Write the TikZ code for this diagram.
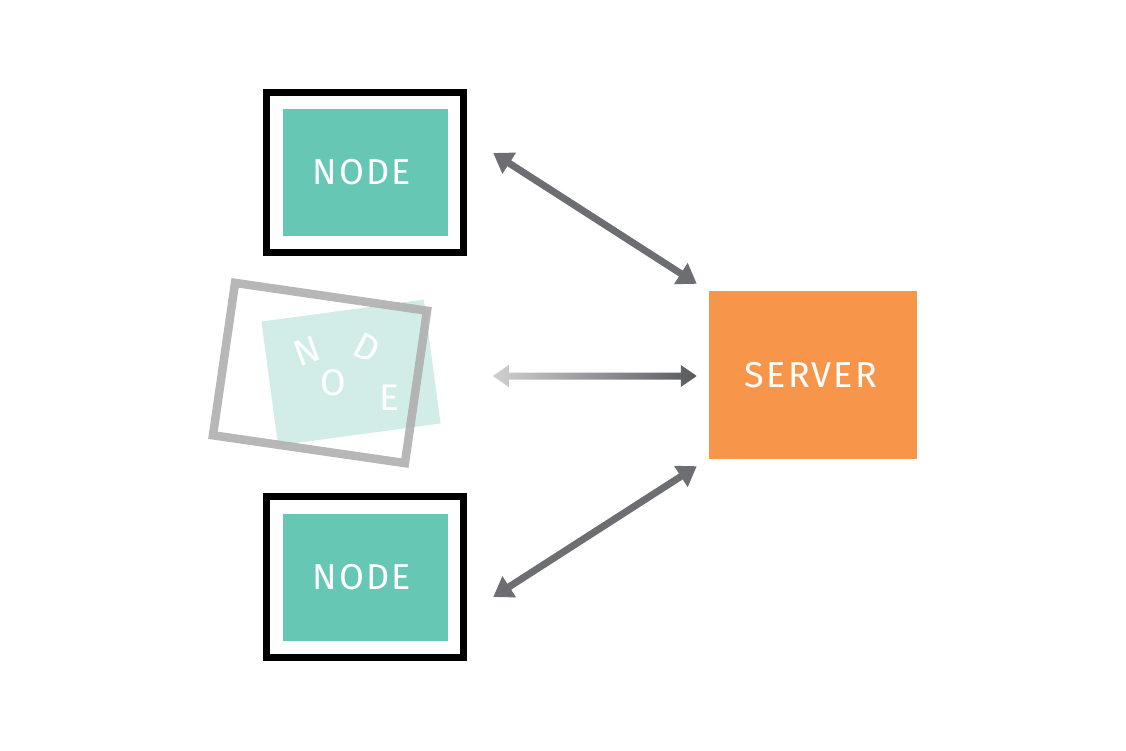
\documentclass[tikz,border=0pt]{standalone}
\usepackage{fontspec}
\newfontfamily\labelfont[LetterSpace=6]{Fira Sans}
\usepackage{tikz}
\usetikzlibrary{
  arrows.meta,
  positioning,
  calc
}
\definecolor{nodeteal}{HTML}{65C7B4}
\definecolor{paleteal}{HTML}{D2EDE7}
\definecolor{servorange}{HTML}{F7964A}
\definecolor{linkgray}{HTML}{6D6E71}
\definecolor{framegray}{HTML}{AFAFAF}
\definecolor{fadelight}{HTML}{D0D0D1}
\definecolor{fadedark}{HTML}{58595B}
\tikzset{
  conn/.style      = {{Triangle[length=19pt, width=24pt]}-{Triangle[length=19pt, width=24pt]},
                      line width=7pt, linkgray},
  frame/.style     = {draw=black, line width=7.5pt, minimum width=197pt,
                      minimum height=160pt, inner sep=0pt},
  nodebox/.style   = {fill=nodeteal, minimum width=165pt, minimum height=127pt,
                      inner sep=0pt, text=white, font=\labelfont\fontsize{36}{40}\selectfont},
  lostframe/.style = {draw=framegray, line width=8.5pt, minimum width=194pt,
                      minimum height=154pt, inner sep=0pt, draw opacity=0.9},
  lostbox/.style   = {fill=paleteal, minimum width=164pt, minimum height=125pt,
                      inner sep=0pt},
  letter/.style    = {text=white, inner sep=0pt, font=\labelfont\fontsize{37}{40}\selectfont},
  serverbox/.style = {fill=servorange, minimum width=208pt, minimum height=168pt,
                      inner sep=0pt, text=white, font=\labelfont\fontsize{36}{40}\selectfont},
}

\begin{document}
\begin{tikzpicture}[x=1pt, y=-1pt]
\useasboundingbox (0,0) rectangle (1126,751);

% ========== LEFT: nodes ==========
\node[frame] (top) at (365,172.5) {};
\node[nodebox] (topin) at (365.5,172.5) {\hspace{-8pt}NODE};

\node[lostbox, rotate=7.7] (lost) at (351,372.5) {};
\node[lostframe, rotate=-8.25] (lostf) at (320,373) {};
\node[letter, rotate=20] (ln) at (307,351) {N};
\node[letter, rotate=-28] (ld) at (367,348) {D};
\node[letter] (lo) at (333,383) {O};
\node[letter] (le) at (389,398) {E};

\node[frame, minimum height=161pt] (bot) at (365,577) {};
\node[nodebox] (botin) at (365.5,577.5) {\hspace{-8pt}NODE};

% ========== RIGHT: server ==========
\node[serverbox] (srv) at (813,375) {\hspace{-4pt}SERVER};

% ========== links ==========
\coordinate (ta) at ($(top.east)+(26,-19.5)$);
\coordinate (tb) at ($(srv.north west)+(-12,-7)$);
\draw[conn] (ta) -- (tb);

\coordinate (ba) at ($(bot.east)+(26,20)$);
\coordinate (bb) at ($(srv.south west)+(-12,7)$);
\draw[conn] (ba) -- (bb);

% faded link to the lost node
\coordinate (ml) at ($(srv.west)+(-216,1)$);
\coordinate (mr) at ($(srv.west)+(-12,1)$);
\shade[left color=fadelight, right color=fadedark]
  (ml) -- ($(ml)+(16,-11)$) -- ($(ml)+(16,-3.5)$) -- ($(mr)+(-16,-3.5)$)
  -- ($(mr)+(-16,-11)$) -- (mr) -- ($(mr)+(-16,11)$) -- ($(mr)+(-16,3.5)$)
  -- ($(ml)+(16,3.5)$) -- ($(ml)+(16,11)$) -- cycle;

\end{tikzpicture}
\end{document}
